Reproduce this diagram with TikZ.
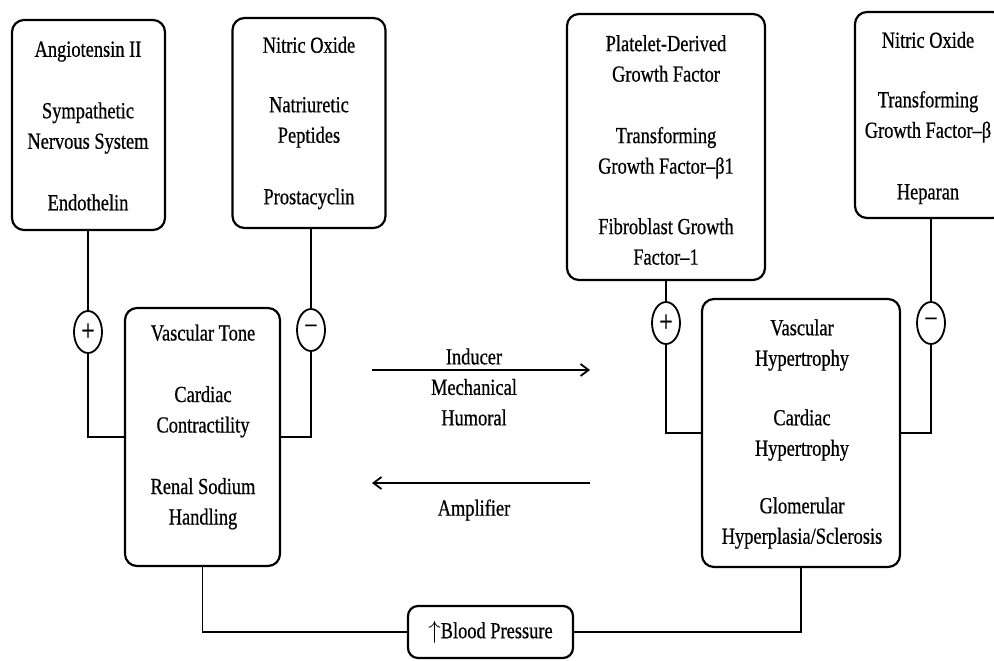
\documentclass[tikz,border=0pt]{standalone}
\usepackage{fontspec}
\setmainfont[FakeStretch=0.8,FakeBold=0.6]{Liberation Serif}
\usetikzlibrary{shapes.geometric,arrows.meta}
\begin{document}
\begin{tikzpicture}[x=1pt,y=-1pt,
  box/.style={draw,line width=2.2pt,rounded corners=12pt,inner sep=0pt},
  txt/.style={align=center,inner sep=0pt,font=\fontsize{23}{30.5}\selectfont},
  sign/.style={draw,ellipse,line width=1.8pt,minimum width=28pt,minimum height=42pt,inner sep=0pt,font=\fontsize{30}{30}\selectfont},
  conn/.style={line width=1.7pt},
  arr/.style={line width=1.8pt,-{Straight Barb[length=8pt,width=12pt,line width=1.8pt]}}
]
\useasboundingbox (0,0) rectangle (994,661);
% boxes
\node[box,minimum width=153pt,minimum height=210pt] (boxA) at (88.5,125) {};
\node[box,minimum width=153pt,minimum height=210pt] (boxB) at (309,123) {};
\node[box,minimum width=155pt,minimum height=258pt] (boxC) at (202.5,437) {};
\node[box,minimum width=198pt,minimum height=266pt] (boxD) at (666,147) {};
\node[box,minimum width=150pt,minimum height=206pt] (boxE) at (930,115) {};
\node[box,minimum width=198pt,minimum height=268pt] (boxF) at (801,433) {};
% texts
\node[txt] (tA) at (88,126) {Angiotensin II\\[31pt]Sympathetic\\Nervous System\\[31pt]Endothelin};
\node[txt] (tB) at (309,123) {Nitric Oxide\\[29pt]Natriuretic\\Peptides\\[31pt]Prostacyclin};
\node[txt] (tC) at (203,427) {Vascular Tone\\[31pt]Cardiac\\Contractility\\[31pt]Renal Sodium\\Handling};
\node[txt] (tD) at (666,150) {Platelet-Derived\\Growth Factor\\[31pt]Transforming\\Growth Factor–β1\\[30pt]Fibroblast Growth\\Factor–1};
\node[txt] (tE) at (928,118) {Nitric Oxide\\[29pt]Transforming\\Growth Factor–β\\[31pt]Heparan};
\node[txt] (tF) at (802,434) {Vascular\\Hypertrophy\\[29pt]Cardiac\\Hypertrophy\\[27pt]Glomerular\\Hyperplasia/Sclerosis};
% signs
\node[sign] (pA) at (88,332) {+};
\node[sign] (mB) at (311,330) {−};
\node[sign] (pD) at (666,323) {+};
\node[sign] (mE) at (931,323) {−};
% connectors to signs
\draw[conn] (pA.north) -- (pA.north |- boxA.south);
\draw[conn] (pA.south) |- (boxC.west);
\draw[conn] (mB.north) -- (mB.north |- boxB.south);
\draw[conn] (mB.south) |- (boxC.east);
\draw[conn] (pD.north) -- (pD.north |- boxD.south);
\draw[conn] (pD.south) |- (boxF.west);
\draw[conn] (mE.north) -- (mE.north |- boxE.south);
\draw[conn] (mE.south) |- (boxF.east);
% middle arrows
\coordinate (i1) at (372,370);
\coordinate (i2) at (590,370);
\coordinate (a1) at (590,483);
\coordinate (a2) at (372,483);
\draw[arr] (i1) -- (i2);
\draw[arr] (a1) -- (a2);
\node[txt] (lInd) at (474,387) {Inducer\\Mechanical\\Humoral};
\node[txt] (lAmp) at (474,510) {Amplifier};
% blood pressure
\node[box,rounded corners=10pt,minimum width=165pt,minimum height=52pt,font=\fontsize{23}{30.5}\selectfont] (bp) at (490.5,632) {$\big\uparrow$Blood Pressure};
\draw[conn] (boxC.south) |- (bp.west);
\draw[conn] (boxF.south) |- (bp.east);
\end{tikzpicture}
\end{document}
